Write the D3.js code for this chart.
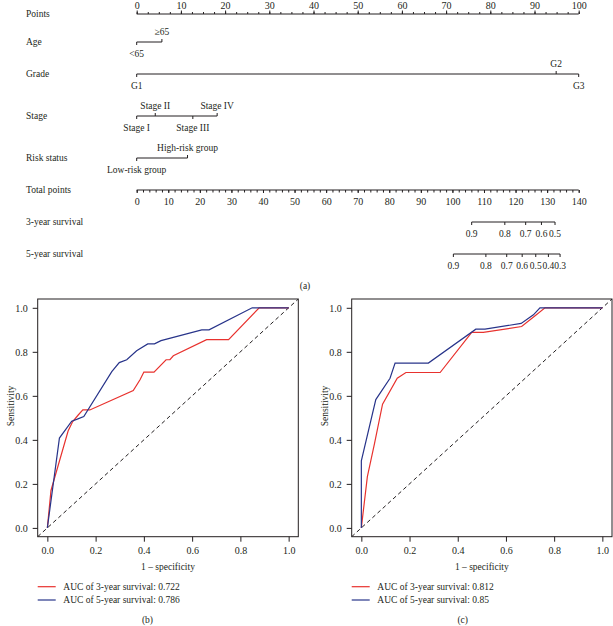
<!DOCTYPE html>
<html>
<head>
<meta charset="utf-8">
<script src="https://d3js.org/d3.v7.min.js"></script>
<style>
  body { margin: 0; background: #fff; }
  svg text { font-family: "Liberation Serif", "DejaVu Serif", serif; fill: #231f20; }
  .axis path.domain { display: none; }
  .axis line { stroke: #231f20; }
</style>
</head>
<body>
<svg id="fig" width="613" height="626"></svg>
<script>
// ---- nomogram data (a) ----
const pointTicks = d3.range(0, 101, 10);
const pointMinor = d3.range(0, 100.1, 2.5);
const totalTicks = d3.range(0, 141, 10);
const totalMinor = d3.range(0, 140.1, 2);

const rowNames = ["Points", "Age", "Grade", "Stage", "Risk status", "Total points", "3-year survival", "5-year survival"];

const ageLevels = ["<65", "\u226565"];
const agePoints = [0, 5.7];
const gradeLevels = ["G1", "G2", "G3"];
const gradePoints = [0, 94.9, 100];
const stageLevels = ["Stage I", "Stage II", "Stage III", "Stage IV"];
const stagePoints = [0, 4.2, 12.7, 18.2];
const riskLevels = ["Low-risk group", "High-risk group"];
const riskPoints = [0, 11.5];

const surv3Probs = [0.9, 0.8, 0.7, 0.6, 0.5];
const surv3Total = [106.1, 116.6, 123.2, 128.2, 132.5];
const surv5Probs = [0.9, 0.8, 0.7, 0.6, 0.5, 0.4, 0.3];
const surv5Total = [100.3, 110.6, 117.2, 122.1, 126.4, 130.4, 134.1];

// ---- ROC data (b) training, (c) validation: [1 - specificity, sensitivity] ----
const rocB3 = [[0, 0], [0.015, 0.17], [0.086, 0.44], [0.105, 0.483], [0.128, 0.513], [0.147, 0.536], [0.176, 0.536],
  [0.356, 0.624], [0.384, 0.673], [0.40, 0.708], [0.442, 0.708], [0.492, 0.764], [0.508, 0.764], [0.522, 0.782],
  [0.66, 0.855], [0.751, 0.855], [0.878, 1], [1, 1]];
const rocB5 = [[0, 0], [0.05, 0.408], [0.101, 0.485], [0.124, 0.494], [0.151, 0.506], [0.267, 0.71], [0.298, 0.751],
  [0.329, 0.764], [0.37, 0.805], [0.416, 0.836], [0.444, 0.836], [0.471, 0.851], [0.64, 0.9], [0.67, 0.9],
  [0.849, 1], [1, 1]];
const rocC3 = [[0, 0], [0.007, 0.066], [0.025, 0.233], [0.055, 0.385], [0.088, 0.562], [0.149, 0.68], [0.185, 0.706],
  [0.327, 0.706], [0.458, 0.888], [0.506, 0.888], [0.665, 0.915], [0.721, 0.964], [0.762, 1], [1, 1]];
const rocC5 = [[0, 0], [0, 0.305], [0.06, 0.583], [0.119, 0.68], [0.14, 0.749], [0.278, 0.749], [0.475, 0.903],
  [0.513, 0.903], [0.663, 0.929], [0.714, 0.968], [0.741, 1], [1, 1]];
const rocTicks = [0, 0.2, 0.4, 0.6, 0.8, 1.0];
const legendB = ["AUC of 3-year survival: 0.722", "AUC of 5-year survival: 0.786"];
const legendC = ["AUC of 3-year survival: 0.812", "AUC of 5-year survival: 0.85"];

const svg = d3.select("#fig");
const fs = 9.5;
const ink = "#231f20";
const red = "#e8322e";
const blue = "#28348a";

// ---------- (a) nomogram ----------
const rowY = [14, 42, 74, 116, 158, 190, 222, 254];
const xPts = d3.scaleLinear().domain([0, 100]).range([136.7, 578.7]);
const xTot = d3.scaleLinear().domain([0, 140]).range([136.7, 578.7]);

const nomo = svg.append("g").attr("id", "nomogram");

nomo.selectAll("text.rowname").data(rowNames).join("text")
  .attr("class", "rowname")
  .attr("x", 26)
  .attr("y", (d, i) => rowY[i] + 3.3)
  .attr("font-size", fs)
  .text(d => d);

// points axis (labels nudged down a little so they stay inside the page)
nomo.append("g").attr("class", "axis")
  .attr("transform", `translate(0,${rowY[0]})`)
  .call(d3.axisTop(xPts).tickValues(pointMinor).tickSize(2).tickFormat(""));
nomo.append("g").attr("class", "axis")
  .attr("transform", `translate(0,${rowY[0]})`)
  .attr("font-size", fs).attr("font-family", null)
  .call(d3.axisTop(xPts).tickValues(pointTicks).tickSize(3.5).tickPadding(1.6));
nomo.append("line").attr("x1", xPts(0)).attr("x2", xPts(100))
  .attr("y1", rowY[0]).attr("y2", rowY[0]).attr("stroke", ink);

// variable rows
const vars = [
  { levels: ageLevels, pts: agePoints, y: rowY[1] },
  { levels: gradeLevels, pts: gradePoints, y: rowY[2] },
  { levels: stageLevels, pts: stagePoints, y: rowY[3] },
  { levels: riskLevels, pts: riskPoints, y: rowY[4] }
];
vars.forEach(v => {
  const g = nomo.append("g");
  g.append("line")
    .attr("x1", xPts(d3.min(v.pts))).attr("x2", xPts(d3.max(v.pts)))
    .attr("y1", v.y).attr("y2", v.y).attr("stroke", ink);
  const items = v.levels.map((l, i) => ({ label: l, p: v.pts[i], up: i % 2 === 1 }));
  g.selectAll("line.tk").data(items).join("line")
    .attr("class", "tk")
    .attr("x1", d => xPts(d.p)).attr("x2", d => xPts(d.p))
    .attr("y1", v.y).attr("y2", d => d.up ? v.y - 3 : v.y + 3)
    .attr("stroke", ink);
  g.selectAll("text").data(items).join("text")
    .attr("x", d => xPts(d.p))
    .attr("y", d => d.up ? v.y - 7 : v.y + 15)
    .attr("text-anchor", "middle")
    .attr("font-size", fs)
    .text(d => d.label);
});

// total points axis
nomo.append("g").attr("class", "axis")
  .attr("transform", `translate(0,${rowY[5]})`)
  .call(d3.axisBottom(xTot).tickValues(totalMinor).tickSize(2.5).tickFormat(""));
nomo.append("g").attr("class", "axis")
  .attr("transform", `translate(0,${rowY[5]})`)
  .attr("font-size", fs).attr("font-family", null)
  .call(d3.axisBottom(xTot).tickValues(totalTicks).tickSize(3).tickPadding(4.5));
nomo.append("line").attr("x1", xTot(0)).attr("x2", xTot(140))
  .attr("y1", rowY[5]).attr("y2", rowY[5]).attr("stroke", ink);

// survival probability rows
[[surv3Probs, surv3Total, rowY[6]], [surv5Probs, surv5Total, rowY[7]]].forEach(([probs, tots, y]) => {
  const g = nomo.append("g");
  g.append("line")
    .attr("x1", xTot(d3.min(tots))).attr("x2", xTot(d3.max(tots)))
    .attr("y1", y).attr("y2", y).attr("stroke", ink);
  g.selectAll("line.tk").data(tots).join("line")
    .attr("class", "tk")
    .attr("x1", d => xTot(d)).attr("x2", d => xTot(d))
    .attr("y1", y).attr("y2", y + 3).attr("stroke", ink);
  g.selectAll("text").data(probs).join("text")
    .attr("x", (d, i) => xTot(tots[i]))
    .attr("y", y + 14.5)
    .attr("text-anchor", "middle")
    .attr("font-size", fs)
    .text(d => d3.format(".1f")(d));
});

svg.append("text").attr("x", 305).attr("y", 288.5).attr("text-anchor", "middle")
  .attr("font-size", fs).text("(a)");

// ---------- (b), (c) ROC curves ----------
function drawRoc(left, right, series3, series5, legend, tag) {
  const top = 299, bottom = 536.7;
  const xs = d3.scaleLinear().domain([-0.04, 1.04]).range([left, right]);
  const ys = d3.scaleLinear().domain([-0.04, 1.04]).range([bottom, top]);
  const g = svg.append("g");
  const clipId = "clip" + tag;
  g.append("clipPath").attr("id", clipId).append("rect")
    .attr("x", left).attr("y", top).attr("width", right - left).attr("height", bottom - top);

  g.append("g").attr("class", "axis")
    .attr("transform", `translate(0,${bottom})`)
    .attr("font-size", fs).attr("font-family", null)
    .call(d3.axisBottom(xs).tickValues(rocTicks).tickSize(5).tickPadding(5).tickFormat(d3.format(".1f")));
  g.append("g").attr("class", "axis")
    .attr("transform", `translate(${left},0)`)
    .attr("font-size", fs).attr("font-family", null)
    .call(d3.axisLeft(ys).tickValues(rocTicks).tickSize(5).tickPadding(5).tickFormat(d3.format(".1f")));

  const plot = g.append("g").attr("clip-path", `url(#${clipId})`);
  plot.append("line")
    .attr("x1", xs(-0.04)).attr("y1", ys(-0.04)).attr("x2", xs(1.04)).attr("y2", ys(1.04))
    .attr("stroke", ink).attr("stroke-width", 1).attr("stroke-dasharray", "4,3");
  const line = d3.line().x(d => xs(d[0])).y(d => ys(d[1]));
  plot.append("path").datum(series3).attr("d", line)
    .attr("fill", "none").attr("stroke", red).attr("stroke-width", 1.2);
  plot.append("path").datum(series5).attr("d", line)
    .attr("fill", "none").attr("stroke", blue).attr("stroke-width", 1.2);

  g.append("rect").attr("x", left).attr("y", top)
    .attr("width", right - left).attr("height", bottom - top)
    .attr("fill", "none").attr("stroke", ink).attr("stroke-width", 1);

  g.append("text").attr("x", (left + right) / 2).attr("y", 570)
    .attr("text-anchor", "middle").attr("font-size", fs).text("1 \u2013 specificity");
  g.append("text")
    .attr("transform", `translate(${left - 23.5},406) rotate(-90)`)
    .attr("text-anchor", "middle").attr("font-size", fs).text("Sensitivity");

  [red, blue].forEach((c, i) => {
    const ly = 586.7 + i * 13.3;
    g.append("line").attr("x1", left).attr("x2", left + 18).attr("y1", ly).attr("y2", ly)
      .attr("stroke", c).attr("stroke-width", 1.2);
    g.append("text").attr("x", left + 25.6).attr("y", ly + 3.3)
      .attr("font-size", fs).text(legend[i]);
  });
  return g;
}

drawRoc(37.7, 298.3, rocB3, rocB5, legendB, "b");
svg.append("text").attr("x", 147.5).attr("y", 623.3).attr("text-anchor", "middle")
  .attr("font-size", fs).text("(b)");
drawRoc(351.7, 612, rocC3, rocC5, legendC, "c");
svg.append("text").attr("x", 462.7).attr("y", 623.3).attr("text-anchor", "middle")
  .attr("font-size", fs).text("(c)");
</script>
</body>
</html>
